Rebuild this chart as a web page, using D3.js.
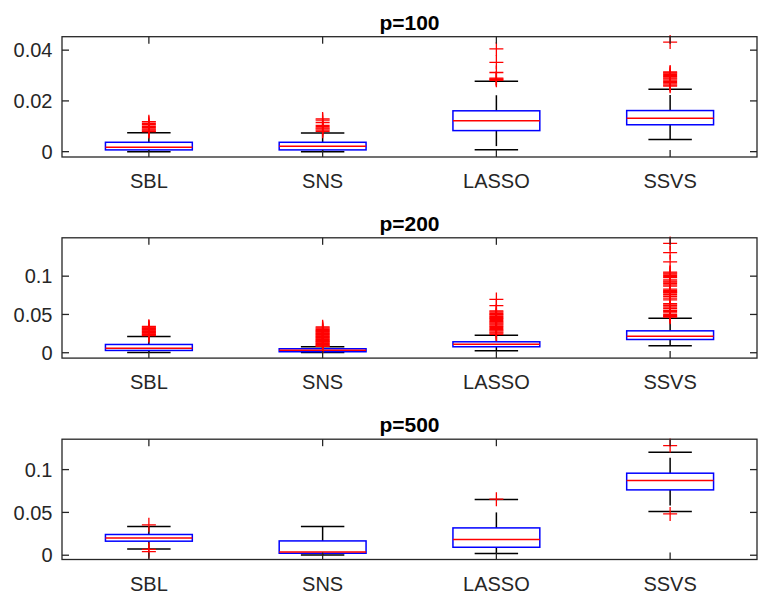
<!DOCTYPE html>
<html>
<head>
<meta charset="utf-8">
<script src="https://cdn.jsdelivr.net/npm/d3@7"></script>
<style>
    body { margin: 0; background: #fff; }
    svg { display: block; font-family: "Liberation Sans", Arial, sans-serif; }
</style>
</head>
<body>
<div id="chart"></div>
<script>
// categories and titles
const categories = ["SBL", "SNS", "LASSO", "SSVS"];
const panelTitles = ["p=100", "p=200", "p=500"];
const yTicks = [[0, 0.02, 0.04], [0, 0.05, 0.1], [0, 0.05, 0.1]];
const yLimits = [[-0.0021, 0.0453], [-0.0070, 0.1501], [-0.0050, 0.1355]];

// box stats per method: [lower whisker, q1, median, q3, upper whisker]
const stats100 = [
    [0.0000, 0.0007, 0.0017, 0.0037, 0.0075],
    [0.0000, 0.0007, 0.0021, 0.0037, 0.0074],
    [0.0008, 0.0083, 0.0122, 0.0161, 0.0277],
    [0.0048, 0.0106, 0.0132, 0.0162, 0.0246]
];
const stats200 = [
    [0.0004, 0.0030, 0.0060, 0.0108, 0.0212],
    [0.0004, 0.0013, 0.0034, 0.0052, 0.0078],
    [0.0026, 0.0078, 0.0112, 0.0143, 0.0229],
    [0.0091, 0.0173, 0.0216, 0.0286, 0.0450]
];
const stats500 = [
    [0.0074, 0.0164, 0.0202, 0.0242, 0.0335],
    [0.0004, 0.0023, 0.0039, 0.0167, 0.0335],
    [0.0020, 0.0093, 0.0183, 0.0319, 0.0650],
    [0.0510, 0.0763, 0.0872, 0.0958, 0.1203]
];

// outliers per method
const outliers100 = [
    [0.0118, 0.0112, 0.0106, 0.0100, 0.0095, 0.0090, 0.0086, 0.0082, 0.0079],
    [0.0129, 0.0124, 0.0115, 0.0104, 0.0099, 0.0094, 0.0090, 0.0085, 0.0080],
    [0.0405, 0.0352, 0.0312, 0.0290, 0.0287, 0.0284, 0.0281],
    [0.0432, 0.0314, 0.0310, 0.0305, 0.0300, 0.0296, 0.0291, 0.0287, 0.0282,
     0.0277, 0.0272, 0.0267, 0.0262, 0.0258]
];
const outliers200 = [
    [0.0345, 0.0335, 0.0325, 0.0315, 0.0305, 0.0295, 0.0285, 0.0275, 0.0265,
     0.0255, 0.0245, 0.0235, 0.0225],
    [0.0338, 0.0325, 0.0312, 0.0300, 0.0290, 0.0280, 0.0270, 0.0260, 0.0250,
     0.0240, 0.0230, 0.0220, 0.0210, 0.0200, 0.0190, 0.0180, 0.0170, 0.0160,
     0.0150, 0.0140, 0.0130, 0.0120, 0.0110, 0.0100, 0.0090, 0.0085],
    [0.0696, 0.0614, 0.0545, 0.0530, 0.0515, 0.0500, 0.0490, 0.0475, 0.0460,
     0.0450, 0.0435, 0.0420, 0.0405, 0.0390, 0.0375, 0.0360, 0.0345, 0.0330,
     0.0315, 0.0300, 0.0285, 0.0270, 0.0255, 0.0240],
    [0.1428, 0.1307, 0.1186, 0.1052, 0.1040, 0.1026, 0.1010, 0.0995, 0.0980,
     0.0952, 0.0935, 0.0922, 0.0905, 0.0887, 0.0870, 0.0831, 0.0815, 0.0800,
     0.0790, 0.0779, 0.0757, 0.0735, 0.0714, 0.0690, 0.0640, 0.0620, 0.0597,
     0.0575, 0.0553, 0.0540, 0.0520, 0.0497, 0.0485, 0.0475, 0.0465]
];
const outliers500 = [
    [0.0355, 0.0068, 0.0042],
    [],
    [0.0655],
    [0.1281, 0.0482]
];

const panelStats = [stats100, stats200, stats500];
const panelOutliers = [outliers100, outliers200, outliers500];

const width = 763, height = 597;
const left = 62, right = 757;
const tops = [36.7, 237.8, 439.2];
const plotH = 120.3;
const axisColor = "#262626";
const tickLen = 7;

let svg = d3.select("#chart").append("svg")
    .attr("width", width)
    .attr("height", height);

let xScale = d3.scaleLinear()
    .domain([0.5, categories.length + 0.5])
    .range([left, right]);

panelTitles.forEach(function(title, p) {
    let top = tops[p];
    let bottom = top + plotH;
    let yScale = d3.scaleLinear()
        .domain(yLimits[p])
        .range([bottom, top]);

    let g = svg.append("g");

    // data first, axes box on top
    let stats = panelStats[p];
    let halfBox = xScale(1.25) - xScale(1);
    let halfCap = halfBox / 2;

    stats.forEach(function(s, i) {
        let cx = xScale(i + 1);
        let grp = g.append("g");

        // whiskers (dashed, drawn outward from box)
        grp.append("line")
            .attr("x1", cx).attr("x2", cx)
            .attr("y1", yScale(s[3])).attr("y2", yScale(s[4]))
            .attr("stroke", "#000").attr("stroke-width", 1.5)
            .attr("stroke-dasharray", "15.5,13");
        grp.append("line")
            .attr("x1", cx).attr("x2", cx)
            .attr("y1", yScale(s[1])).attr("y2", yScale(s[0]))
            .attr("stroke", "#000").attr("stroke-width", 1.5)
            .attr("stroke-dasharray", "15.5,13");

        // caps
        [s[0], s[4]].forEach(function(v) {
            grp.append("line")
                .attr("x1", cx - halfCap).attr("x2", cx + halfCap)
                .attr("y1", yScale(v)).attr("y2", yScale(v))
                .attr("stroke", "#000").attr("stroke-width", 1.5);
        });

        // box
        grp.append("rect")
            .attr("x", cx - halfBox)
            .attr("y", yScale(s[3]))
            .attr("width", 2 * halfBox)
            .attr("height", yScale(s[1]) - yScale(s[3]))
            .attr("fill", "none")
            .attr("stroke", "#0000ff")
            .attr("stroke-width", 1.5);

        // median
        grp.append("line")
            .attr("x1", cx - halfBox).attr("x2", cx + halfBox)
            .attr("y1", yScale(s[2])).attr("y2", yScale(s[2]))
            .attr("stroke", "#ff0000").attr("stroke-width", 1.5);

        // outliers as red plus signs
        let m = 7;
        grp.selectAll("path.out")
            .data(panelOutliers[p][i])
            .enter().append("path")
            .attr("class", "out")
            .attr("d", function(d) {
                let y = yScale(d);
                return "M" + (cx - m) + "," + y + "H" + (cx + m) +
                       "M" + cx + "," + (y - m) + "V" + (y + m);
            })
            .attr("stroke", "#ff0000")
            .attr("stroke-width", 1.3)
            .attr("fill", "none");
    });

    // axes box
    g.append("rect")
        .attr("x", left).attr("y", top)
        .attr("width", right - left).attr("height", plotH)
        .attr("fill", "none")
        .attr("stroke", axisColor)
        .attr("stroke-width", 1.3);

    // y ticks both sides, inward
    yTicks[p].forEach(function(t) {
        let y = yScale(t);
        g.append("line")
            .attr("x1", left).attr("x2", left + tickLen)
            .attr("y1", y).attr("y2", y)
            .attr("stroke", axisColor).attr("stroke-width", 1.3);
        g.append("line")
            .attr("x1", right).attr("x2", right - tickLen)
            .attr("y1", y).attr("y2", y)
            .attr("stroke", axisColor).attr("stroke-width", 1.3);
        g.append("text")
            .attr("x", left - 9.5)
            .attr("y", y)
            .attr("dy", "0.36em")
            .attr("text-anchor", "end")
            .attr("font-size", 20)
            .attr("fill", axisColor)
            .text(String(t));
    });

    // x ticks top and bottom, inward
    categories.forEach(function(c, i) {
        let x = xScale(i + 1);
        g.append("line")
            .attr("x1", x).attr("x2", x)
            .attr("y1", bottom).attr("y2", bottom - tickLen)
            .attr("stroke", axisColor).attr("stroke-width", 1.3);
        g.append("line")
            .attr("x1", x).attr("x2", x)
            .attr("y1", top).attr("y2", top + tickLen)
            .attr("stroke", axisColor).attr("stroke-width", 1.3);
        g.append("text")
            .attr("x", x)
            .attr("y", bottom + 31)
            .attr("text-anchor", "middle")
            .attr("font-size", 20)
            .attr("fill", axisColor)
            .text(c);
    });

    // title
    g.append("text")
        .attr("x", (left + right) / 2)
        .attr("y", top - 7)
        .attr("text-anchor", "middle")
        .attr("font-size", 21)
        .attr("font-weight", "bold")
        .attr("fill", "#000")
        .text(title);
});
</script>
</body>
</html>
